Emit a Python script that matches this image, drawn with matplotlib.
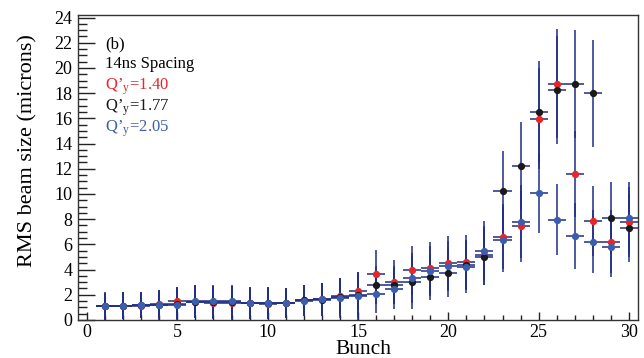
import numpy as np
import matplotlib.pyplot as plt

plt.rcParams['font.family'] = ['Liberation Serif', 'DejaVu Serif']
plt.rcParams['mathtext.fontset'] = 'stix'

bunch = list(range(1, 31))

# Q'y = 1.40 (red)
red_y = [1.10, 1.12, 1.15, 1.28, 1.48, 1.43, 1.38, 1.33, 1.33, 1.30,
         1.36, 1.60, 1.65, 1.91, 2.27, 3.67, 3.01, 3.96, 4.12, 4.54,
         4.59, 5.12, 6.62, 7.43, 15.98, 18.75, 11.59, 7.83, 6.22, 7.77]
red_err = [1.08, 1.08, 1.03, 1.10, 1.10, 1.30, 1.30, 1.30, 1.24, 1.24,
           1.18, 1.20, 1.30, 1.40, 1.50, 1.92, 1.77, 1.94, 2.05, 2.10,
           2.16, 2.37, 2.60, 2.79, 4.00, 4.31, 3.40, 2.77, 2.50, 2.78]

# Q'y = 1.77 (black)
black_y = [1.10, 1.12, 1.16, 1.22, 1.30, 1.45, 1.42, 1.40, 1.35, 1.35,
           1.37, 1.55, 1.62, 1.80, 1.95, 2.80, 2.80, 2.98, 3.38, 3.75,
           4.35, 5.00, 10.25, 12.22, 16.51, 18.25, 18.72, 17.98, 8.12, 7.33]
black_err = [1.08, 1.08, 1.03, 1.10, 1.20, 1.30, 1.30, 1.30, 1.24, 1.24,
             1.18, 1.24, 1.30, 1.50, 1.70, 1.50, 1.50, 2.08, 1.76, 1.92,
             2.00, 2.25, 3.15, 3.48, 4.07, 4.27, 4.28, 4.22, 2.84, 2.69]

# Q'y = 2.05 (blue)
blue_y = [1.12, 1.12, 1.17, 1.17, 1.17, 1.48, 1.48, 1.48, 1.38, 1.38,
          1.38, 1.54, 1.64, 1.75, 1.88, 2.07, 2.49, 3.35, 3.90, 4.28,
          4.20, 5.51, 6.38, 7.80, 10.09, 7.96, 6.67, 6.20, 5.80, 8.12]
blue_err = [1.08, 1.08, 1.03, 1.20, 1.45, 1.32, 1.32, 1.32, 1.24, 1.24,
            1.18, 1.26, 1.32, 1.58, 1.92, 1.48, 1.64, 2.00, 2.00, 2.00,
            2.03, 2.37, 2.58, 2.90, 3.19, 2.80, 2.61, 2.50, 2.40, 2.84]

navy = '#1f2d86'
series = [(red_y, red_err, '#e8262a'),
          (black_y, black_err, '#1a1a1a'),
          (blue_y, blue_err, '#3a5fae')]

fig = plt.figure(figsize=(6.44, 3.58), dpi=100)
ax = fig.add_axes([78/644, 1 - 320/358, 560/644, 305/358])

for y, err, c in series:
    ax.errorbar(bunch, y, xerr=0.5, yerr=err, fmt='o', color=c, ms=4.2,
                mec=c, ecolor=navy, elinewidth=1.1, capsize=0)

ax.set_xlim(-0.5, 30.5)
ax.set_ylim(0, 24.2)
ax.set_xticks(range(0, 31, 5))
ax.set_xticks(range(0, 31), minor=True)
ax.set_yticks(range(0, 25, 2))
ax.set_yticks(np.arange(0, 24.1, 0.5), minor=True)
ax.tick_params(axis='both', which='both', direction='in', top=False, right=False,
               labelsize=13, width=1.0, color='#222222')
ax.tick_params(axis='y', which='major', length=12, pad=4)
ax.tick_params(axis='y', which='minor', length=6.5)
ax.tick_params(axis='x', which='major', length=6, pad=3)
ax.tick_params(axis='x', which='minor', length=3.6)
for s in ax.spines.values():
    s.set_linewidth(1.0)
    s.set_color('#333333')

ax.set_xlabel('Bunch', fontsize=15.5)
ax.xaxis.set_label_coords(0.51, -0.065)
ax.xaxis.label.set_va('top')
ax.set_ylabel('RMS beam size (microns)', fontsize=16)
ax.yaxis.set_label_coords(-0.072, 0.554)

x0 = 105 / 644
fig.text(x0, 1 - 48/358, '(b)', fontsize=12, va='baseline')
fig.text(x0, 1 - 68/358, '14ns Spacing', fontsize=12, va='baseline')
fig.text(x0, 1 - 90/358, 'Q’$_\\mathregular{y}$=1.40', fontsize=12, va='baseline', color='#e8262a')
fig.text(x0, 1 - 111/358, 'Q’$_\\mathregular{y}$=1.77', fontsize=12, va='baseline', color='#1a1a1a')
fig.text(x0, 1 - 132/358, 'Q’$_\\mathregular{y}$=2.05', fontsize=12, va='baseline', color='#3a5fae')

fig.savefig('out.png', dpi=100)
